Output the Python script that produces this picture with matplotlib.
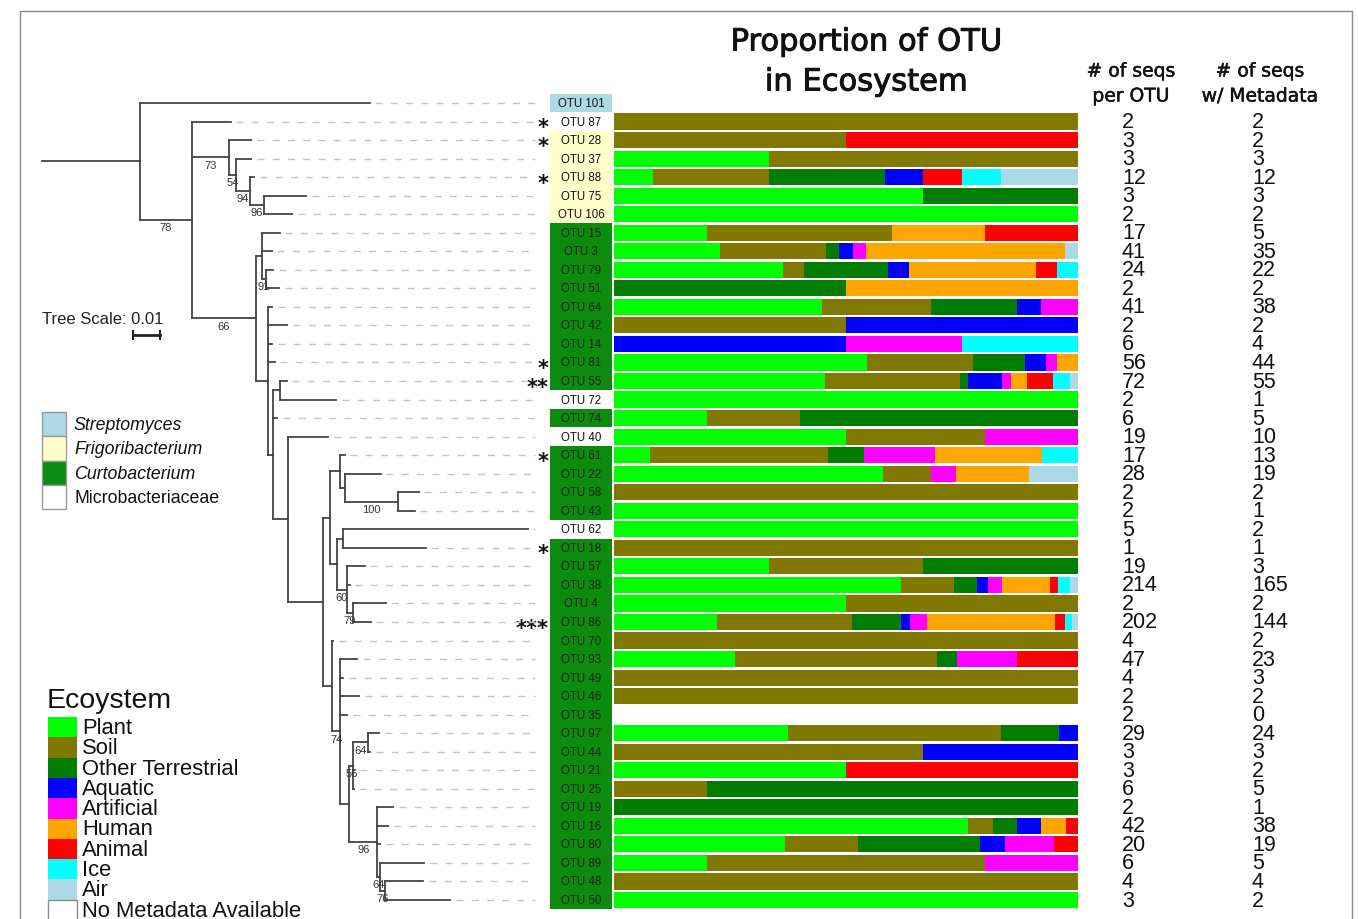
import matplotlib
matplotlib.use('Agg')
import matplotlib.pyplot as plt
import matplotlib.patheffects as pe
from matplotlib.patches import Rectangle

W, H = 1358, 920

# ---- data -------------------------------------------------------------
OTUS = ['OTU 101', 'OTU 87', 'OTU 28', 'OTU 37', 'OTU 88', 'OTU 75', 'OTU 106',
        'OTU 15', 'OTU 3', 'OTU 79', 'OTU 51', 'OTU 64', 'OTU 42', 'OTU 14',
        'OTU 81', 'OTU 55', 'OTU 72', 'OTU 74', 'OTU 40', 'OTU 61', 'OTU 22',
        'OTU 58', 'OTU 43', 'OTU 62', 'OTU 18', 'OTU 57', 'OTU 38', 'OTU 4',
        'OTU 86', 'OTU 70', 'OTU 93', 'OTU 49', 'OTU 46', 'OTU 35', 'OTU 97',
        'OTU 44', 'OTU 21', 'OTU 25', 'OTU 19', 'OTU 16', 'OTU 80', 'OTU 89',
        'OTU 48', 'OTU 50']

# S = Streptomyces, F = Frigoribacterium, C = Curtobacterium, M = Microbacteriaceae
GENUS = (['S', 'M'] + ['F'] * 5 + ['C'] * 9 + ['M', 'C', 'M'] + ['C'] * 4
         + ['M'] + ['C'] * 20)

STARS = {'OTU 87': '*', 'OTU 28': '*', 'OTU 88': '*', 'OTU 81': '*',
         'OTU 55': '**', 'OTU 61': '*', 'OTU 18': '*', 'OTU 86': '***'}

# columns for OTU 87 ... OTU 50 (OTU 101 has no data)
SEQS_PER_OTU = [2, 3, 3, 12, 3, 2, 17, 41, 24, 2, 41, 2, 6, 56, 72, 2, 6, 19, 17,
                28, 2, 2, 5, 1, 19, 214, 2, 202, 4, 47, 4, 2, 2, 29, 3, 3, 6, 2,
                42, 20, 6, 4, 3]
SEQS_META = [2, 2, 3, 12, 3, 2, 5, 35, 22, 2, 38, 2, 4, 44, 55, 1, 5, 10, 13,
             19, 2, 1, 2, 1, 3, 165, 2, 144, 2, 23, 3, 2, 0, 24, 3, 2, 5, 1,
             38, 19, 5, 4, 2]

CATEGORIES = ['Plant', 'Soil', 'Other Terrestrial', 'Aquatic', 'Artificial',
              'Human', 'Animal', 'Ice', 'Air']
PLANT = [0, 0, 1, 1, 2, 2, 1, 8, 8, 0, 17, 0, 0, 24, 25, 1, 1, 5, 1, 11, 0, 1, 2,
         0, 1, 102, 1, 32, 0, 6, 0, 0, 0, 9, 0, 1, 0, 0, 29, 7, 1, 0, 2]
SOIL = [2, 1, 2, 3, 0, 0, 2, 8, 1, 0, 9, 1, 0, 10, 16, 0, 1, 3, 5, 2, 2, 0, 0,
        1, 1, 19, 1, 42, 2, 10, 3, 2, 0, 11, 2, 0, 1, 0, 2, 3, 3, 4, 0]
OTHER_TERR = [0, 0, 0, 3, 1, 0, 0, 1, 4, 1, 7, 0, 0, 5, 1, 0, 3, 0, 1, 0, 0, 0,
              0, 0, 1, 8, 0, 15, 0, 1, 0, 0, 0, 3, 0, 0, 4, 1, 2, 5, 0, 0, 0]
AQUATIC = [0, 0, 0, 1, 0, 0, 0, 1, 1, 0, 2, 1, 2, 2, 4, 0, 0, 0, 0, 0, 0, 0, 0,
           0, 0, 4, 0, 3, 0, 0, 0, 0, 0, 1, 1, 0, 0, 0, 2, 1, 0, 0, 0]
ARTIFICIAL = [0, 0, 0, 0, 0, 0, 0, 1, 0, 0, 3, 0, 1, 1, 1, 0, 0, 2, 2, 1, 0, 0,
              0, 0, 0, 5, 0, 5, 0, 3, 0, 0, 0, 0, 0, 0, 0, 0, 0, 2, 1, 0, 0]
HUMAN = [0, 0, 0, 0, 0, 0, 1, 15, 6, 1, 0, 0, 0, 2, 2, 0, 0, 0, 3, 3, 0, 0, 0,
         0, 0, 17, 0, 40, 0, 0, 0, 0, 0, 0, 0, 0, 0, 0, 2, 0, 0, 0, 0]
ANIMAL = [0, 1, 0, 1, 0, 0, 1, 0, 1, 0, 0, 0, 0, 0, 3, 0, 0, 0, 0, 0, 0, 0, 0,
          0, 0, 3, 0, 3, 0, 3, 0, 0, 0, 0, 0, 1, 0, 0, 1, 1, 0, 0, 0]
ICE = [0, 0, 0, 1, 0, 0, 0, 0, 1, 0, 0, 0, 1, 0, 2, 0, 0, 0, 1, 0, 0, 0, 0, 0,
       0, 4, 0, 2, 0, 0, 0, 0, 0, 0, 0, 0, 0, 0, 0, 0, 0, 0, 0]
AIR = [0, 0, 0, 2, 0, 0, 0, 1, 0, 0, 0, 0, 0, 0, 1, 0, 0, 0, 0, 2, 0, 0, 0, 0,
       0, 3, 0, 2, 0, 0, 0, 0, 0, 0, 0, 0, 0, 0, 0, 0, 0, 0, 0]
CAT_COUNTS = [PLANT, SOIL, OTHER_TERR, AQUATIC, ARTIFICIAL, HUMAN, ANIMAL, ICE, AIR]

# tree, branch lengths in 0.001 substitutions/site, internal labels = bootstrap
TREE = """
(OTU_101:83.6,
 (OTU_87:14.2,
  (OTU_28:8.0,(OTU_37:5.5,(OTU_88:1.5,(OTU_75:15.3,OTU_106:10.2)96:5.1)94:5.1)54:2.5)73:13.5,
  ((OTU_15:6.5,OTU_3:3.6,(OTU_79:2.5,OTU_51:4.7)91:1.5):2.2,
   (OTU_64:1.5,OTU_42:6.9,OTU_14:1.5,OTU_81:2.5,
    ((OTU_55:2.5,OTU_72:20.4):2.5,OTU_74:1.5,
     (OTU_40:14.5,
      (((OTU_61:1.8,(OTU_22:13.1,(OTU_58:7.6,OTU_43:6.2)100:19.3):1.8):3.6,
        ((OTU_62:67.3,OTU_18:30.2):2.2,
         (OTU_57:6.5,OTU_38:1.1,(OTU_4:12.0,OTU_86:6.5)79:2.2)60:3.6):2.5):2.5,
       (OTU_70:0.4,
        (OTU_93:6.2,OTU_49:1.1,OTU_46:6.9,OTU_35:2.5,
         (((OTU_97:4.0,OTU_44:0.7)64:5.5,OTU_21:0.4,OTU_25:0.2)56:1.5,
          (OTU_19:5.8,OTU_16:4.0,OTU_80:1.1,
           (OTU_89:16.0,(OTU_48:13.8,OTU_50:23.6)76:1.8)64:1.1)96:10.2):3.3
        )74:2.9):3.3
      ):12.7):5.5):1.8):4.4)66:23.3)78:18.9):35.8;
"""

CAT_COLORS = ['#00ff00', '#807800', '#007d00', '#0000ff', '#ff00ff',
              '#ffa500', '#ff0000', '#00ffff', '#add8e6']
GENUS_COLORS = {'S': '#add8e6', 'F': '#ffffcc', 'C': '#0c8c0c', 'M': '#ffffff'}
GENUS_NAMES = [('S', 'Streptomyces', 'italic'), ('F', 'Frigoribacterium', 'italic'),
               ('C', 'Curtobacterium', 'italic'), ('M', 'Microbacteriaceae', 'normal')]

# ---- layout helpers ---------------------------------------------------
ROW_Y0, ROW_DY = 104.0, 18.535      # pixel centre of first row, row pitch
ROW_LIM = ((H - ROW_Y0) / ROW_DY, -ROW_Y0 / ROW_DY)
TREE_X0, PX_PER_UNIT = 41.5, 2.75   # root stem start, px per 0.001
DASH_END = (535 - TREE_X0) / PX_PER_UNIT
SANS = ['Liberation Sans', 'DejaVu Sans']


def parse_newick(text):
    s = ''.join(text.split()).rstrip(';')
    pos = 0

    def node():
        nonlocal pos
        kids = []
        if s[pos] == '(':
            pos += 1
            kids.append(node())
            while s[pos] == ',':
                pos += 1
                kids.append(node())
            pos += 1
        start = pos
        while pos < len(s) and s[pos] not in ':,)':
            pos += 1
        label = s[start:pos]
        length = 0.0
        if pos < len(s) and s[pos] == ':':
            pos += 1
            start = pos
            while pos < len(s) and s[pos] not in ',)':
                pos += 1
            length = float(s[start:pos])
        return {'label': label, 'length': length, 'children': kids}

    return node()


def layout(n, x0):
    n['x0'] = x0
    n['x'] = x0 + n['length']
    if n['children']:
        for c in n['children']:
            layout(c, n['x'])
        ys = [c['y'] for c in n['children']]
        n['y'] = (min(ys) + max(ys)) / 2
    else:
        n['y'] = OTUS.index(n['label'].replace('_', ' '))


fig = plt.figure(figsize=(W / 100, H / 100), dpi=100)

# pixel canvas for free text / legends
ax = fig.add_axes([0, 0, 1, 1])
ax.set_xlim(0, W)
ax.set_ylim(H, 0)
ax.axis('off')

# per-row canvas: x in px, y in rows
rax = fig.add_axes([0, 0, 1, 1])
rax.set_xlim(0, W)
rax.set_ylim(*ROW_LIM)
rax.axis('off')
rax.patch.set_alpha(0)

# tree axes: x in tree units, y in rows
tax = fig.add_axes([0, 0, 1, 1])
tax.set_xlim(-TREE_X0 / PX_PER_UNIT, (W - TREE_X0) / PX_PER_UNIT)
tax.set_ylim(*ROW_LIM)
tax.axis('off')
tax.patch.set_alpha(0)

# bar axes: x = proportion
bax = fig.add_axes([614 / W, 0, 464 / W, 1])
bax.set_xlim(0, 1)
bax.set_ylim(*ROW_LIM)
bax.axis('off')
bax.patch.set_alpha(0)

# ---- frame ------------------------------------------------------------
ax.plot([20, 20, 1352, 1352], [H, 12, 12, H], color='#8a8a8a', lw=1)

# ---- tree -------------------------------------------------------------
root = parse_newick(TREE)
layout(root, 0.0)
TREE_COLOR = '#444444'


def draw(n):
    tax.plot([n['x0'], n['x']], [n['y'], n['y']], color=TREE_COLOR, lw=1.3,
             solid_capstyle='projecting')
    if n['children']:
        ys = [c['y'] for c in n['children']]
        tax.plot([n['x'], n['x']], [min(ys), max(ys)], color=TREE_COLOR, lw=1.3,
                 solid_capstyle='projecting')
        if n['label']:
            tax.text((n['x0'] + n['x']) / 2, n['y'] + 0.12, n['label'],
                     ha='center', va='top', fontsize=8, color='#333333',
                     family=SANS)
        for c in n['children']:
            draw(c)
    else:
        tax.plot([n['x'] + 2, DASH_END], [n['y'], n['y']], color='#c4c4c4',
                 lw=1, dashes=(5, 6))


draw(root)

# scale bar (0.01 = 10 units)
sb_row = (336 - ROW_Y0) / ROW_DY
sb_x = (132.5 - TREE_X0) / PX_PER_UNIT
tax.plot([sb_x, sb_x + 10], [sb_row, sb_row], color='#222222', lw=2)
for xx in (sb_x, sb_x + 10):
    tax.plot([xx, xx], [sb_row - 0.2, sb_row + 0.2], color='#222222', lw=1.5)
ax.text(42, 320, 'Tree Scale: 0.01', fontsize=12, va='center', ha='left',
        family=SANS, color='#222222')

# ---- OTU labels -------------------------------------------------------
for i, (otu, g) in enumerate(zip(OTUS, GENUS)):
    rax.add_patch(Rectangle((550, i - 0.5), 62, 1.0, facecolor=GENUS_COLORS[g],
                            edgecolor='none'))
    rax.text(581, i, otu, ha='center', va='center', fontsize=8.3,
             family=SANS, color='#1e1e1e' if g == 'C' else '#111111')
    if otu in STARS:
        rax.text(549, i + 0.3, STARS[otu], ha='right', va='center',
                 fontsize=15, fontweight='bold', family='DejaVu Sans',
                 color='#111111')

# ---- stacked proportion bars -----------------------------------------
bar_rows = list(range(1, len(OTUS)))
lefts = [0.0] * len(bar_rows)
for counts, color in zip(CAT_COUNTS, CAT_COLORS):
    widths = [c / t if t else 0 for c, t in zip(counts, SEQS_META)]
    bax.barh(bar_rows, widths, left=lefts, height=0.87, color=color,
             edgecolor='none')
    lefts = [l + w for l, w in zip(lefts, widths)]

# ---- counts columns ---------------------------------------------------
for r, n1, n2 in zip(bar_rows, SEQS_PER_OTU, SEQS_META):
    rax.text(1122, r, str(n1), ha='left', va='center', fontsize=15.5,
             family=SANS, color='#111111')
    rax.text(1252, r, str(n2), ha='left', va='center', fontsize=15.5,
             family=SANS, color='#111111')

# ---- headers ----------------------------------------------------------
for txt, x, y, fs, stroke in [('Proportion of OTU', 866, 43, 22, 0.7),
                              ('in Ecosystem', 866, 83, 22, 0.7),
                              ('# of seqs', 1131, 72, 13.5, 0.35),
                              ('per OTU', 1131, 97, 13.5, 0.35),
                              ('# of seqs', 1260, 72, 13.5, 0.35),
                              ('w/ Metadata', 1260, 97, 13.5, 0.35)]:
    t = ax.text(x, y, txt, ha='center', va='center', fontsize=fs, color='#111111')
    t.set_path_effects([pe.withStroke(linewidth=stroke, foreground='#111111')])

# ---- genus legend -----------------------------------------------------
for k, (g, name, style) in enumerate(GENUS_NAMES):
    y0 = 413 + k * 24.3
    ax.add_patch(Rectangle((42, y0), 24, 24.3, facecolor=GENUS_COLORS[g],
                           edgecolor='#9a9a9a', lw=1))
    ax.text(74, y0 + 12.5, name, ha='left', va='center', fontsize=12.8,
            style=style, family=SANS, color='#111111')

# ---- ecosystem legend -------------------------------------------------
ax.text(47, 701, 'Ecoystem', ha='left', va='center', fontsize=20.5,
        family=SANS, color='#111111')
legend_items = list(zip(CATEGORIES, CAT_COLORS)) + [('No Metadata Available', '#ffffff')]
for k, (name, color) in enumerate(legend_items):
    y0 = 718 + k * 20.3
    ax.add_patch(Rectangle((48, y0), 29, 20.3, facecolor=color,
                           edgecolor='#8a8a8a' if color == '#ffffff' else 'none',
                           lw=1))
    ax.text(82, y0 + 10.5, name, ha='left', va='center', fontsize=15.8,
            family=SANS, color='#111111')

fig.savefig('out.png', dpi=100)
